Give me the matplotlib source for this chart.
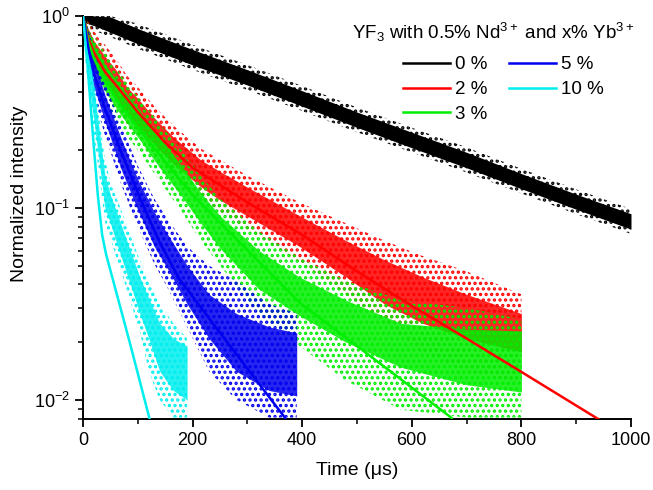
import numpy as np
import matplotlib.pyplot as plt

plt.rcParams['font.family'] = ['Liberation Sans', 'DejaVu Sans']
plt.rcParams['mathtext.fontset'] = 'custom'
plt.rcParams['mathtext.rm'] = 'Liberation Sans'
plt.rcParams['mathtext.it'] = 'Liberation Sans:italic'
plt.rcParams['mathtext.default'] = 'regular'
plt.rcParams['font.size'] = 13
plt.rcParams['hatch.linewidth'] = 1.6

# ---- measured decays, read off the figure (intensity bands of the point clouds) ----
# 0 % Yb
t_k = [0, 20, 50, 100, 150, 200, 300, 400, 500, 600, 700, 800, 900, 1000]
k_in_hi = [1.0, 1.0, 0.989, 0.860, 0.758, 0.669, 0.525, 0.408, 0.316, 0.248, 0.195, 0.151, 0.118, 0.0933]
k_in_lo = [0.93, 0.891, 0.823, 0.716, 0.631, 0.556, 0.437, 0.339, 0.263, 0.206, 0.162, 0.126, 0.0985, 0.0776]
k_out_hi = [1.0, 1.0, 1.0, 0.911, 0.803, 0.708, 0.556, 0.432, 0.334, 0.262, 0.207, 0.160, 0.125, 0.0988]
k_out_lo = [0.90, 0.841, 0.777, 0.676, 0.596, 0.525, 0.412, 0.320, 0.248, 0.195, 0.153, 0.119, 0.093, 0.0733]

# 2 % Yb
t_r = [0, 10, 20, 40, 60, 80, 100, 130, 165, 215, 250, 305, 395, 480, 550, 620, 700, 800]
r_in_hi = [1.0, 0.851, 0.741, 0.617, 0.525, 0.427, 0.372, 0.295, 0.234, 0.178, 0.155, 0.126, 0.0912, 0.0676, 0.0537, 0.0437, 0.0355, 0.0282]
r_in_lo = [0.955, 0.676, 0.562, 0.447, 0.380, 0.309, 0.269, 0.214, 0.170, 0.129, 0.110, 0.0891, 0.0631, 0.0437, 0.0316, 0.0251, 0.0209, 0.0178]
r_out_hi = [1.0, 0.933, 0.832, 0.708, 0.603, 0.490, 0.427, 0.339, 0.269, 0.204, 0.178, 0.145, 0.107, 0.0832, 0.0676, 0.0562, 0.0468, 0.0355]
r_out_lo = [0.891, 0.617, 0.501, 0.389, 0.331, 0.269, 0.234, 0.186, 0.148, 0.112, 0.0955, 0.0759, 0.0525, 0.0355, 0.0251, 0.0178, 0.0141, 0.0123]

# 3 % Yb
t_g = [0, 10, 20, 40, 70, 100, 145, 180, 215, 250, 320, 395, 480, 580, 700, 800]
g_in_hi = [1.0, 0.832, 0.708, 0.562, 0.427, 0.331, 0.224, 0.166, 0.120, 0.0912, 0.0603, 0.0437, 0.0331, 0.0251, 0.0234, 0.0229]
g_in_lo = [0.955, 0.661, 0.537, 0.407, 0.302, 0.234, 0.155, 0.115, 0.0832, 0.0617, 0.0380, 0.0275, 0.0200, 0.0148, 0.0120, 0.0110]
g_out_hi = [1.0, 0.912, 0.794, 0.646, 0.490, 0.380, 0.263, 0.200, 0.148, 0.112, 0.0759, 0.0550, 0.0417, 0.0331, 0.0302, 0.0263]
g_out_lo = [0.891, 0.589, 0.468, 0.347, 0.257, 0.200, 0.132, 0.0955, 0.0676, 0.0501, 0.0282, 0.0191, 0.0126, 0.0089, 0.0081, 0.0081]

# 5 % Yb
t_b = [0, 5, 10, 20, 40, 70, 100, 130, 155, 190, 230, 280, 340, 390]
b_in_hi = [1.0, 0.891, 0.776, 0.589, 0.389, 0.229, 0.141, 0.0955, 0.0724, 0.0501, 0.0355, 0.0282, 0.0240, 0.0224]
b_in_lo = [0.955, 0.708, 0.589, 0.427, 0.282, 0.158, 0.0977, 0.0631, 0.0479, 0.0316, 0.0209, 0.0141, 0.0112, 0.0105]
b_out_hi = [1.0, 0.955, 0.851, 0.661, 0.447, 0.269, 0.166, 0.112, 0.0871, 0.0631, 0.0501, 0.0417, 0.0316, 0.0282]
b_out_lo = [0.891, 0.631, 0.525, 0.372, 0.240, 0.132, 0.0794, 0.0513, 0.0380, 0.0240, 0.0141, 0.0100, 0.0081, 0.0081]

# 10 % Yb
t_c = [0, 5, 10, 20, 30, 40, 50, 60, 75, 90, 105, 120, 140, 165, 190]
c_in_hi = [1.0, 0.851, 0.676, 0.417, 0.251, 0.148, 0.117, 0.0977, 0.0741, 0.0562, 0.0427, 0.0339, 0.0251, 0.0209, 0.0191]
c_in_lo = [0.933, 0.631, 0.468, 0.282, 0.170, 0.100, 0.0832, 0.0676, 0.0501, 0.0372, 0.0275, 0.0209, 0.0141, 0.0112, 0.0100]
c_out_hi = [1.0, 0.933, 0.759, 0.479, 0.295, 0.178, 0.138, 0.115, 0.0891, 0.0676, 0.0525, 0.0417, 0.0316, 0.0251, 0.0209]
c_out_lo = [0.871, 0.550, 0.407, 0.240, 0.145, 0.0851, 0.0692, 0.0562, 0.0417, 0.0302, 0.0219, 0.0141, 0.0100, 0.0081, 0.0081]

# ---- fitted curves ----
fk_t = [0, 20, 50, 100, 150, 200, 300, 400, 500, 600, 700, 800, 900, 1000]
fk_v = [1.0, 0.977, 0.902, 0.785, 0.692, 0.610, 0.479, 0.372, 0.288, 0.226, 0.178, 0.138, 0.108, 0.0851]
fr_t = [0, 10, 20, 40, 60, 100, 150, 200, 300, 400, 500, 600, 700, 800, 940]
fr_v = [1.0, 0.759, 0.646, 0.513, 0.437, 0.316, 0.219, 0.162, 0.107, 0.0724, 0.0468, 0.0309, 0.0209, 0.0140, 0.00796]
fg_t = [0, 10, 20, 40, 70, 100, 150, 200, 300, 396, 500, 600, 673]
fg_v = [1.0, 0.724, 0.603, 0.457, 0.339, 0.263, 0.174, 0.117, 0.0603, 0.0320, 0.0191, 0.0116, 0.00805]
fb_t = [0, 10, 20, 40, 70, 100, 140, 177, 250, 369]
fb_v = [1.0, 0.676, 0.501, 0.331, 0.195, 0.120, 0.0661, 0.0422, 0.0224, 0.00805]
fc_t = [0, 9, 18, 27, 35, 42, 86, 122]
fc_v = [1.0, 0.523, 0.240, 0.117, 0.0723, 0.0576, 0.0196, 0.00787]

labels = ['0 %', '2 %', '3 %', '5 %', '10 %']
colors = ['#000000', '#ff0000', '#00ee00', '#0000ee', '#00eeee']
legend_title = 'YF$_3$ with 0.5% Nd$^{3+}$ and x% Yb$^{3+}$'

series = [
    (t_k, k_in_lo, k_in_hi, k_out_lo, k_out_hi, fk_t, fk_v),
    (t_r, r_in_lo, r_in_hi, r_out_lo, r_out_hi, fr_t, fr_v),
    (t_g, g_in_lo, g_in_hi, g_out_lo, g_out_hi, fg_t, fg_v),
    (t_b, b_in_lo, b_in_hi, b_out_lo, b_out_hi, fb_t, fb_v),
    (t_c, c_in_lo, c_in_hi, c_out_lo, c_out_hi, fc_t, fc_v),
]

fig = plt.figure(figsize=(6.53, 4.9), dpi=100)
ax = fig.add_axes([0.1271, 0.1449, 0.8392, 0.8224])

handles = []
for (t, ilo, ihi, olo, ohi, ft, fv), col, lab in zip(series, colors, labels):
    black = col == '#000000'
    # sparse outer cloud drawn as a dotted hatch, dense core as a solid band
    ax.fill_between(t, olo, ohi, facecolor='none', edgecolor=col, hatch='...',
                    lw=0, zorder=2)
    ax.fill_between(t, ilo, ihi, color=col, alpha=1.0 if black else 0.85, lw=0,
                    zorder=2)
    h, = ax.plot(ft, fv, color=col, lw=1.8, label=lab, zorder=1 if black else 3)
    handles.append(h)

ax.set_yscale('log')
ax.set_xlim(0, 1000)
ax.set_ylim(0.00796, 1.0)
ax.set_xticks([0, 200, 400, 600, 800, 1000])
ax.set_xticks([100, 300, 500, 700, 900], minor=True)
ax.set_yticks([0.01, 0.1, 1])
ax.set_yticklabels(['$10^{-2}$', '$10^{-1}$', '$10^{0}$'])

for s in ['top', 'right']:
    ax.spines[s].set_visible(False)
for s in ['left', 'bottom']:
    ax.spines[s].set_linewidth(1.4)
ax.tick_params(which='major', direction='out', length=6, width=1.3, labelsize=13)
ax.tick_params(which='minor', direction='out', length=3.5, width=1.1)

ax.set_xlabel('Time (\u03bcs)', fontsize=14, labelpad=9)
ax.set_ylabel('Normalized intensity', fontsize=14)
ax.yaxis.set_label_coords(-0.1, 0.558)

ax.text(1.0055, 0.960, legend_title, transform=ax.transAxes, ha='right', va='center',
        fontsize=13.5)
ax.legend(handles=handles, loc='upper left', bbox_to_anchor=(0.584, 0.90), ncol=2,
          frameon=False, fontsize=13.5, handlelength=2.5, handletextpad=0.25,
          columnspacing=1.2, labelspacing=0.4, borderpad=0, borderaxespad=0)

fig.savefig('out.png', dpi=100)
